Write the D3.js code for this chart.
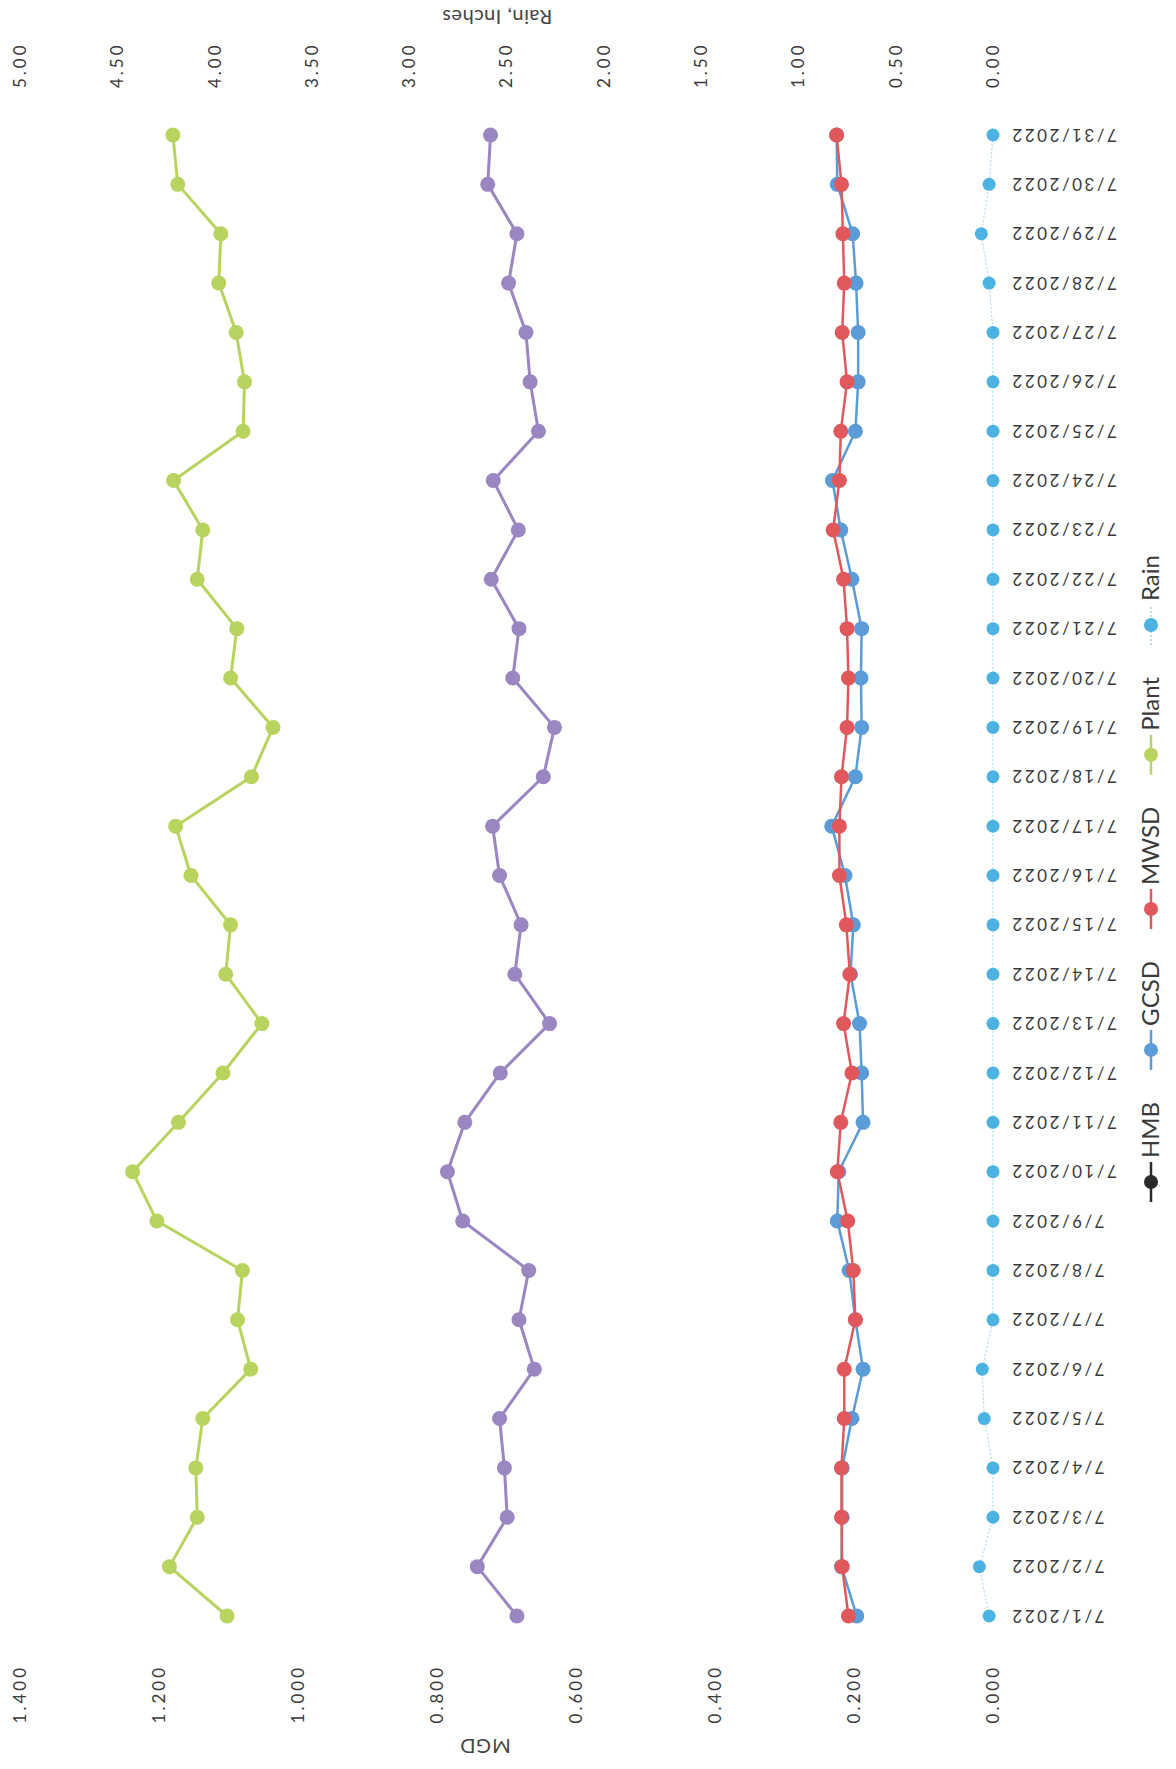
<!DOCTYPE html>
<html>
<head>
<meta charset="utf-8">
<script src="https://cdn.jsdelivr.net/npm/d3@7"></script>
<style>
  body { margin: 0; background: #fff; }
  svg { display: block; }
</style>
</head>
<body>
<script>
'use strict';

// chart data, July 2022 (flows in MGD, rain in inches)
const dates = d3.range(1, 32).map(d => "7/" + d + "/2022");

const hmb = [0.685, 0.742, 0.699, 0.703, 0.710, 0.660, 0.682, 0.668, 0.763, 0.785,
  0.760, 0.709, 0.638, 0.688, 0.679, 0.710, 0.720, 0.647, 0.631, 0.691,
  0.682, 0.722, 0.683, 0.719, 0.654, 0.666, 0.672, 0.697, 0.685, 0.727, 0.723];

const gcsd = [0.196, 0.218, 0.217, 0.217, 0.203, 0.187, 0.198, 0.207, 0.224, 0.222,
  0.187, 0.189, 0.192, 0.205, 0.201, 0.213, 0.232, 0.198, 0.189, 0.190,
  0.189, 0.203, 0.219, 0.231, 0.198, 0.194, 0.194, 0.197, 0.202, 0.224, 0.225];

const mwsd = [0.208, 0.217, 0.218, 0.218, 0.214, 0.214, 0.198, 0.201, 0.209, 0.224,
  0.219, 0.203, 0.215, 0.206, 0.211, 0.221, 0.221, 0.218, 0.210, 0.208,
  0.210, 0.215, 0.230, 0.221, 0.219, 0.210, 0.217, 0.214, 0.216, 0.218, 0.225];

const plant = [1.102, 1.185, 1.145, 1.147, 1.137, 1.068, 1.087, 1.080, 1.203, 1.238,
  1.172, 1.108, 1.052, 1.104, 1.097, 1.154, 1.176, 1.067, 1.036, 1.097,
  1.088, 1.145, 1.137, 1.179, 1.079, 1.077, 1.089, 1.114, 1.111, 1.173, 1.180];

const rain = [0.02, 0.07, 0, 0, 0.045, 0.055, 0, 0, 0, 0,
  0, 0, 0, 0, 0, 0, 0, 0, 0, 0,
  0, 0, 0, 0, 0, 0, 0, 0.02, 0.06, 0.02, 0];

const mgdTicks = [0, 0.2, 0.4, 0.6, 0.8, 1.0, 1.2, 1.4];
const rainTicks = [0, 0.5, 1, 1.5, 2, 2.5, 3, 3.5, 4, 4.5, 5];

const legendNames = ["HMB", "GCSD", "MWSD", "Plant", "Rain"];

const colors = {
  "HMB": "#9a86c1",
  "GCSD": "#5b9bd8",
  "MWSD": "#e0585b",
  "Plant": "#b8d35e",
  "Rain": "#4cb2e2"
};
const legendColors = {
  "HMB": "#2a2a2a",
  "GCSD": "#5b9bd8",
  "MWSD": "#e0585b",
  "Plant": "#b8d35e",
  "Rain": "#4cb2e2"
};

const font = "Lato, 'Open Sans', sans-serif";

// the page is portrait; the chart is drawn landscape and turned a quarter turn
const pageW = 1176, pageH = 1769;

const svg = d3.select("body").append("svg")
  .attr("width", pageW)
  .attr("height", pageH);

svg.append("rect").attr("width", pageW).attr("height", pageH).attr("fill", "#fff");

const g = svg.append("g")
  .attr("transform", `translate(0,${pageH}) rotate(-90)`);

const x = d3.scalePoint().domain(dates).range([153, 1634]);
const yMgd = d3.scaleLinear().domain([0, 1.4]).range([993, 20]);
const yRain = d3.scaleLinear().domain([0, 5]).range([993, 20]);

// left axis (MGD)
const leftAxis = g.append("g")
  .attr("transform", "translate(104,0)")
  .call(d3.axisLeft(yMgd).tickValues(mgdTicks).tickFormat(d3.format(".3f")).tickSize(0).tickPadding(0));
leftAxis.select(".domain").remove();

// right axis (rain)
const rightAxis = g.append("g")
  .attr("transform", "translate(1681,0)")
  .call(d3.axisRight(yRain).tickValues(rainTicks).tickFormat(d3.format(".2f")).tickSize(0).tickPadding(0));
rightAxis.select(".domain").remove();

g.selectAll(".tick text")
  .attr("font-family", font)
  .attr("font-size", 17)
  .attr("letter-spacing", 3)
  .attr("fill", "#3a3a3a");

// date axis
const bottomAxis = g.append("g")
  .attr("transform", "translate(0,1010)")
  .call(d3.axisBottom(x).tickSize(0).tickPadding(0));
bottomAxis.select(".domain").remove();
bottomAxis.selectAll("text")
  .attr("y", 0)
  .attr("dy", "0.35em")
  .attr("transform", "rotate(-90)")
  .attr("text-anchor", "end")
  .attr("font-family", font)
  .attr("font-size", 17)
  .attr("letter-spacing", 2.5)
  .attr("fill", "#3a3a3a");

// axis titles
g.append("text")
  .attr("transform", "translate(30,485) rotate(-90)")
  .attr("text-anchor", "middle")
  .attr("font-family", font)
  .attr("font-size", 20)
  .attr("letter-spacing", 1)
  .attr("fill", "#444")
  .text("MGD");

g.append("text")
  .attr("transform", "translate(1759,497) rotate(-90)")
  .attr("text-anchor", "middle")
  .attr("font-family", font)
  .attr("font-size", 20)
  .attr("letter-spacing", 0.5)
  .attr("fill", "#444")
  .text("Rain, Inches");

// series
function drawSeries(values, scale, color, lineColor, width, dash, r) {
  const pts = values.map((v, i) => [x(dates[i]), scale(v)]);
  g.append("path")
    .attr("d", d3.line()(pts))
    .attr("fill", "none")
    .attr("stroke", lineColor)
    .attr("stroke-width", width)
    .attr("stroke-dasharray", dash)
    .attr("stroke-linejoin", "round");
  g.append("g").selectAll("circle")
    .data(pts)
    .enter()
    .append("circle")
    .attr("cx", d => d[0])
    .attr("cy", d => d[1])
    .attr("r", r)
    .attr("fill", color);
}

drawSeries(rain, yRain, colors.Rain, "#9fd3ee", 1, "2,2", 6.5);
drawSeries(plant, yMgd, colors.Plant, colors.Plant, 3, null, 7.5);
drawSeries(hmb, yMgd, colors.HMB, colors.HMB, 3, null, 7.5);
drawSeries(gcsd, yMgd, colors.GCSD, colors.GCSD, 2.5, null, 7.5);
drawSeries(mwsd, yMgd, colors.MWSD, colors.MWSD, 2.5, null, 7.5);

// legend
const legend = g.append("g").attr("transform", "translate(0,1151)");
let lx = 587;
legendNames.forEach(name => {
  const c = legendColors[name];
  legend.append("line")
    .attr("x1", lx - 20).attr("x2", lx + 20)
    .attr("stroke", name == "Rain" ? "#9fd3ee" : c)
    .attr("stroke-width", name == "Rain" ? 1.5 : 2.5)
    .attr("stroke-dasharray", name == "Rain" ? "2,2" : null);
  legend.append("circle")
    .attr("cx", lx)
    .attr("r", 7)
    .attr("fill", c);
  const t = legend.append("text")
    .attr("x", lx + 24)
    .attr("dy", "0.35em")
    .attr("font-family", font)
    .attr("font-size", 24)
    .attr("fill", "#3a3a3a")
    .text(name);
  lx += 24 + t.node().getComputedTextLength() + 52;
});
</script>
</body>
</html>
